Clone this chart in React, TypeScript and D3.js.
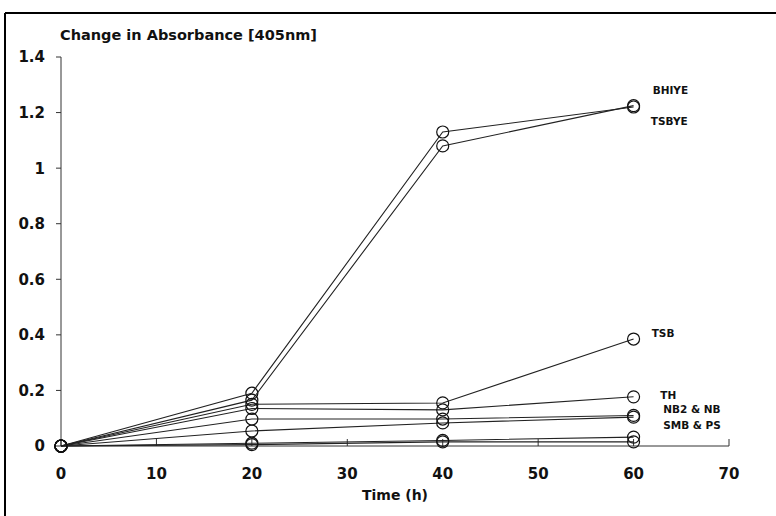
import React from "react";
import * as d3 from "d3";

const times = [0, 20, 40, 60];
const seriesNames = ["BHIYE", "TSBYE", "TSB", "TH", "NB2", "NB", "SMB", "PS"];
const bhiye = [0, 0.19, 1.13, 1.22];
const tsbye = [0, 0.165, 1.08, 1.225];
const tsb = [0, 0.15, 0.155, 0.385];
const th = [0, 0.135, 0.13, 0.177];
const nb2 = [0, 0.097, 0.097, 0.11];
const nb = [0, 0.054, 0.083, 0.104];
const smb = [0, 0.01, 0.02, 0.032];
const ps = [0, 0.005, 0.015, 0.015];
const allSeries = [bhiye, tsbye, tsb, th, nb2, nb, smb, ps];

const xTicks = [0, 10, 20, 30, 40, 50, 60, 70];
const yTicks = [0, 0.2, 0.4, 0.6, 0.8, 1, 1.2, 1.4];

const labelTexts = ["BHIYE", "TSBYE", "TSB", "TH", "NB2 & NB", "SMB & PS"];
const labelValues = [1.281, 1.17, 0.407, 0.184, 0.133, 0.076];
const labelTimes = [62.0, 61.8, 61.9, 62.8, 63.1, 63.1];

const FONT = "'DejaVu Sans', sans-serif";

export default function App() {
  const x = d3.scaleLinear().domain([0, 70]).range([61, 729]);
  const y = d3.scaleLinear().domain([0, 1.4]).range([446, 57]);
  const line = d3
    .line<number>()
    .x((_, i) => x(times[i]))
    .y((d) => y(d));

  return (
    <svg
      width={776}
      height={516}
      style={{ position: "absolute", left: 0, top: 0, background: "#fff" }}
    >
      {/* frame */}
      <line x1={5} y1={13} x2={776} y2={13} stroke="#000" strokeWidth={2} />
      <line x1={5} y1={13} x2={5} y2={516} stroke="#000" strokeWidth={2} />

      {/* title */}
      <text x={60} y={40} fontFamily={FONT} fontWeight="bold" fontSize={14.5} fill="#111">
        Change in Absorbance [405nm]
      </text>

      {/* y axis */}
      <line x1={x(0)} y1={y(1.4)} x2={x(0)} y2={y(0)} stroke="#333" strokeWidth={1} />
      {yTicks.map((t) => (
        <g key={"y" + t}>
          <line x1={x(0) - 5} x2={x(0)} y1={y(t)} y2={y(t)} stroke="#333" strokeWidth={1} />
          <text
            x={45}
            y={y(t)}
            dy="0.36em"
            textAnchor="end"
            fontFamily={FONT}
            fontWeight="bold"
            fontSize={15}
            fill="#111"
          >
            {String(t)}
          </text>
        </g>
      ))}

      {/* x axis */}
      <line x1={x(0)} y1={y(0)} x2={x(70)} y2={y(0)} stroke="#333" strokeWidth={1} />
      {xTicks.map((t) => (
        <g key={"x" + t}>
          <line x1={x(t)} x2={x(t)} y1={y(0)} y2={y(0) - 7} stroke="#333" strokeWidth={1} />
          <text
            x={x(t)}
            y={479}
            textAnchor="middle"
            fontFamily={FONT}
            fontWeight="bold"
            fontSize={15}
            fill="#111"
          >
            {String(t)}
          </text>
        </g>
      ))}
      <text x={395} y={500} textAnchor="middle" fontFamily={FONT} fontWeight="bold" fontSize={14} fill="#111">
        Time (h)
      </text>

      {/* series */}
      {allSeries.map((s, k) => (
        <g key={seriesNames[k]}>
          <path d={line(s) || ""} fill="none" stroke="#222" strokeWidth={1.1} />
          {s.map((v, i) => (
            <circle
              key={i}
              cx={x(times[i])}
              cy={y(v)}
              r={6}
              fill="none"
              stroke="#111"
              strokeWidth={1.2}
            />
          ))}
        </g>
      ))}

      {/* labels */}
      {labelTexts.map((t, i) => (
        <text
          key={t}
          x={x(labelTimes[i])}
          y={y(labelValues[i])}
          dy="0.36em"
          fontFamily={FONT}
          fontWeight="bold"
          fontSize={10.5}
          fill="#111"
        >
          {t}
        </text>
      ))}
    </svg>
  );
}
